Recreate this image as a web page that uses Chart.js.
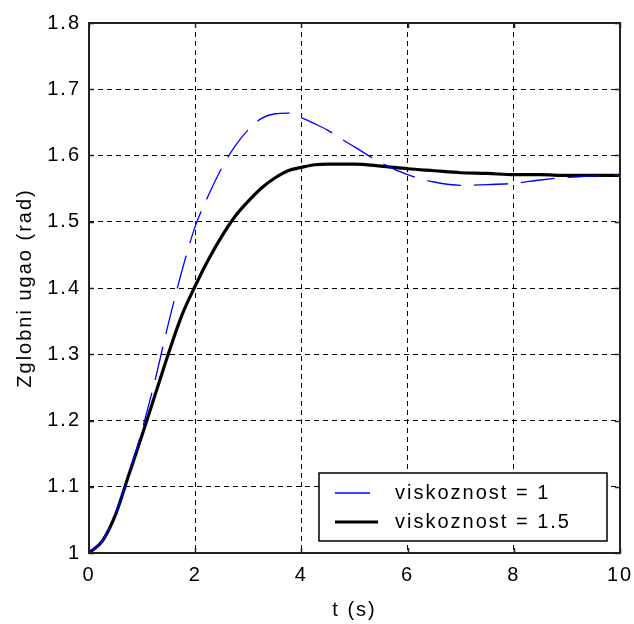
<!DOCTYPE html>
<html>
<head>
<meta charset="utf-8">
<script src="https://cdn.jsdelivr.net/npm/chart.js@4/dist/chart.umd.min.js"></script>
<style>
  html, body { margin: 0; padding: 0; background: #fff; }
  canvas { display: block; }
</style>
</head>
<body>
<canvas id="angleChart" width="634" height="624"></canvas>
<script>
// time axis (s) and joint angle (rad) for the two viscosity values
var timeValues = [0, 0.25, 0.5, 0.75, 1, 1.25, 1.5, 1.75, 2, 2.25, 2.5, 2.75, 3, 3.25, 3.5, 3.75,
                  4, 4.25, 4.5, 4.75, 5, 5.5, 6, 6.5, 7, 7.5, 8, 8.5, 9, 9.5, 10];
var angleVisc1 = [1.000, 1.018, 1.060, 1.118, 1.186, 1.263, 1.348, 1.426, 1.493, 1.540, 1.581, 1.614,
                  1.639, 1.656, 1.663, 1.664, 1.657, 1.648, 1.638, 1.625, 1.613, 1.589, 1.571, 1.560,
                  1.555, 1.556, 1.558, 1.563, 1.567, 1.569, 1.570];
var angleVisc15 = [1.000, 1.018, 1.058, 1.118, 1.178, 1.240, 1.302, 1.359, 1.403, 1.443, 1.478, 1.508,
                   1.531, 1.551, 1.566, 1.577, 1.582, 1.586, 1.587, 1.587, 1.587, 1.584, 1.580, 1.577,
                   1.574, 1.573, 1.571, 1.571, 1.570, 1.570, 1.570];
var seriesLabels = ['viskoznost = 1', 'viskoznost = 1.5'];
var xTitle = 't (s)';
var yTitle = 'Zglobni ugao (rad)';

var fontFamily = '"Liberation Sans", Arial, sans-serif';

function toPoints(values) {
  return timeValues.map(function(t, i) { return { x: t, y: values[i] }; });
}

// a bit of letter spacing for all canvas text
var textSpacing = {
  id: 'textSpacing',
  beforeUpdate: function(chart) { chart.ctx.letterSpacing = '2px'; },
  beforeDraw: function(chart) { chart.ctx.letterSpacing = '2px'; }
};

// solid box round the plot plus short inward ticks on all four sides
var plotFrame = {
  id: 'plotFrame',
  afterDatasetsDraw: function(chart) {
    var ctx = chart.ctx, a = chart.chartArea;
    var xs = chart.scales.x, ys = chart.scales.y;
    var len = 5;
    ctx.save();
    ctx.strokeStyle = '#222';
    ctx.lineWidth = 1.5;
    ctx.beginPath();
    xs.ticks.forEach(function(t) {
      var px = Math.round(xs.getPixelForValue(t.value)) + 0.5;
      ctx.moveTo(px, a.bottom); ctx.lineTo(px, a.bottom - len);
      ctx.moveTo(px, a.top); ctx.lineTo(px, a.top + len);
    });
    ys.ticks.forEach(function(t) {
      var py = Math.round(ys.getPixelForValue(t.value)) + 0.5;
      ctx.moveTo(a.left, py); ctx.lineTo(a.left + len, py);
      ctx.moveTo(a.right, py); ctx.lineTo(a.right - len, py);
    });
    ctx.stroke();
    ctx.lineWidth = 2;
    ctx.strokeRect(a.left, a.top, a.right - a.left, a.bottom - a.top);
    ctx.restore();
  }
};

// legend box in the lower right corner of the plot
var cornerLegend = {
  id: 'cornerLegend',
  afterDraw: function(chart) {
    var ctx = chart.ctx, a = chart.chartArea;
    var w = 288, h = 68;
    var x = a.right - 13 - w, y = a.bottom - 12 - h;
    ctx.save();
    ctx.fillStyle = '#fff';
    ctx.fillRect(x, y, w, h);
    ctx.strokeStyle = '#000';
    ctx.lineWidth = 1.5;
    ctx.strokeRect(x, y, w, h);
    ctx.font = '20px ' + fontFamily;
    ctx.textBaseline = 'middle';
    ctx.textAlign = 'left';
    chart.data.datasets.forEach(function(ds, i) {
      var rowY = y + 20 + i * 29;
      ctx.beginPath();
      ctx.strokeStyle = ds.borderColor;
      ctx.lineWidth = ds.borderWidth;
      ctx.moveTo(x + 16, rowY);
      ctx.lineTo(x + (i === 0 ? 51 : 59), rowY);
      ctx.stroke();
      ctx.fillStyle = '#000';
      ctx.fillText(ds.label, x + 76, rowY);
    });
    ctx.restore();
  }
};

var chart = new Chart(document.getElementById('angleChart'), {
  type: 'line',
  data: {
    datasets: [
      {
        label: seriesLabels[0],
        data: toPoints(angleVisc1),
        borderColor: '#0000ff',
        borderWidth: 1.3,
        borderDash: [34, 13],
        pointRadius: 0,
        cubicInterpolationMode: 'monotone',
        fill: false
      },
      {
        label: seriesLabels[1],
        data: toPoints(angleVisc15),
        borderColor: '#000000',
        borderWidth: 3.2,
        pointRadius: 0,
        cubicInterpolationMode: 'monotone',
        fill: false
      }
    ]
  },
  options: {
    responsive: false,
    animation: false,
    layout: { padding: { top: 23, right: 14, left: 0, bottom: 0 } },
    plugins: {
      legend: { display: false },
      tooltip: { enabled: false }
    },
    scales: {
      x: {
        type: 'linear',
        min: 0,
        max: 10,
        ticks: {
          stepSize: 2,
          color: '#000',
          padding: 10,
          maxRotation: 0,
          font: { family: fontFamily, size: 20 }
        },
        grid: { color: '#000', lineWidth: 1, drawTicks: false },
        border: { display: false, dash: [5, 4] },
        title: {
          display: true,
          text: xTitle,
          color: '#000',
          padding: { top: 0, bottom: 2 },
          font: { family: fontFamily, size: 20 }
        },
        afterFit: function(scale) {
          scale.height = 71;
          scale.paddingLeft = 0;
          scale.paddingRight = 14;
        }
      },
      y: {
        min: 1,
        max: 1.8,
        ticks: {
          stepSize: 0.1,
          color: '#000',
          padding: 8,
          font: { family: fontFamily, size: 20 },
          callback: function(v) { return String(+v.toFixed(1)); }
        },
        grid: { color: '#000', lineWidth: 1, drawTicks: false },
        border: { display: false, dash: [5, 4] },
        title: {
          display: true,
          text: yTitle,
          color: '#000',
          padding: { top: 13, bottom: 0 },
          font: { family: fontFamily, size: 20 }
        },
        afterFit: function(scale) { scale.width = 89; }
      }
    }
  },
  plugins: [textSpacing, plotFrame, cornerLegend]
});
</script>
</body>
</html>
